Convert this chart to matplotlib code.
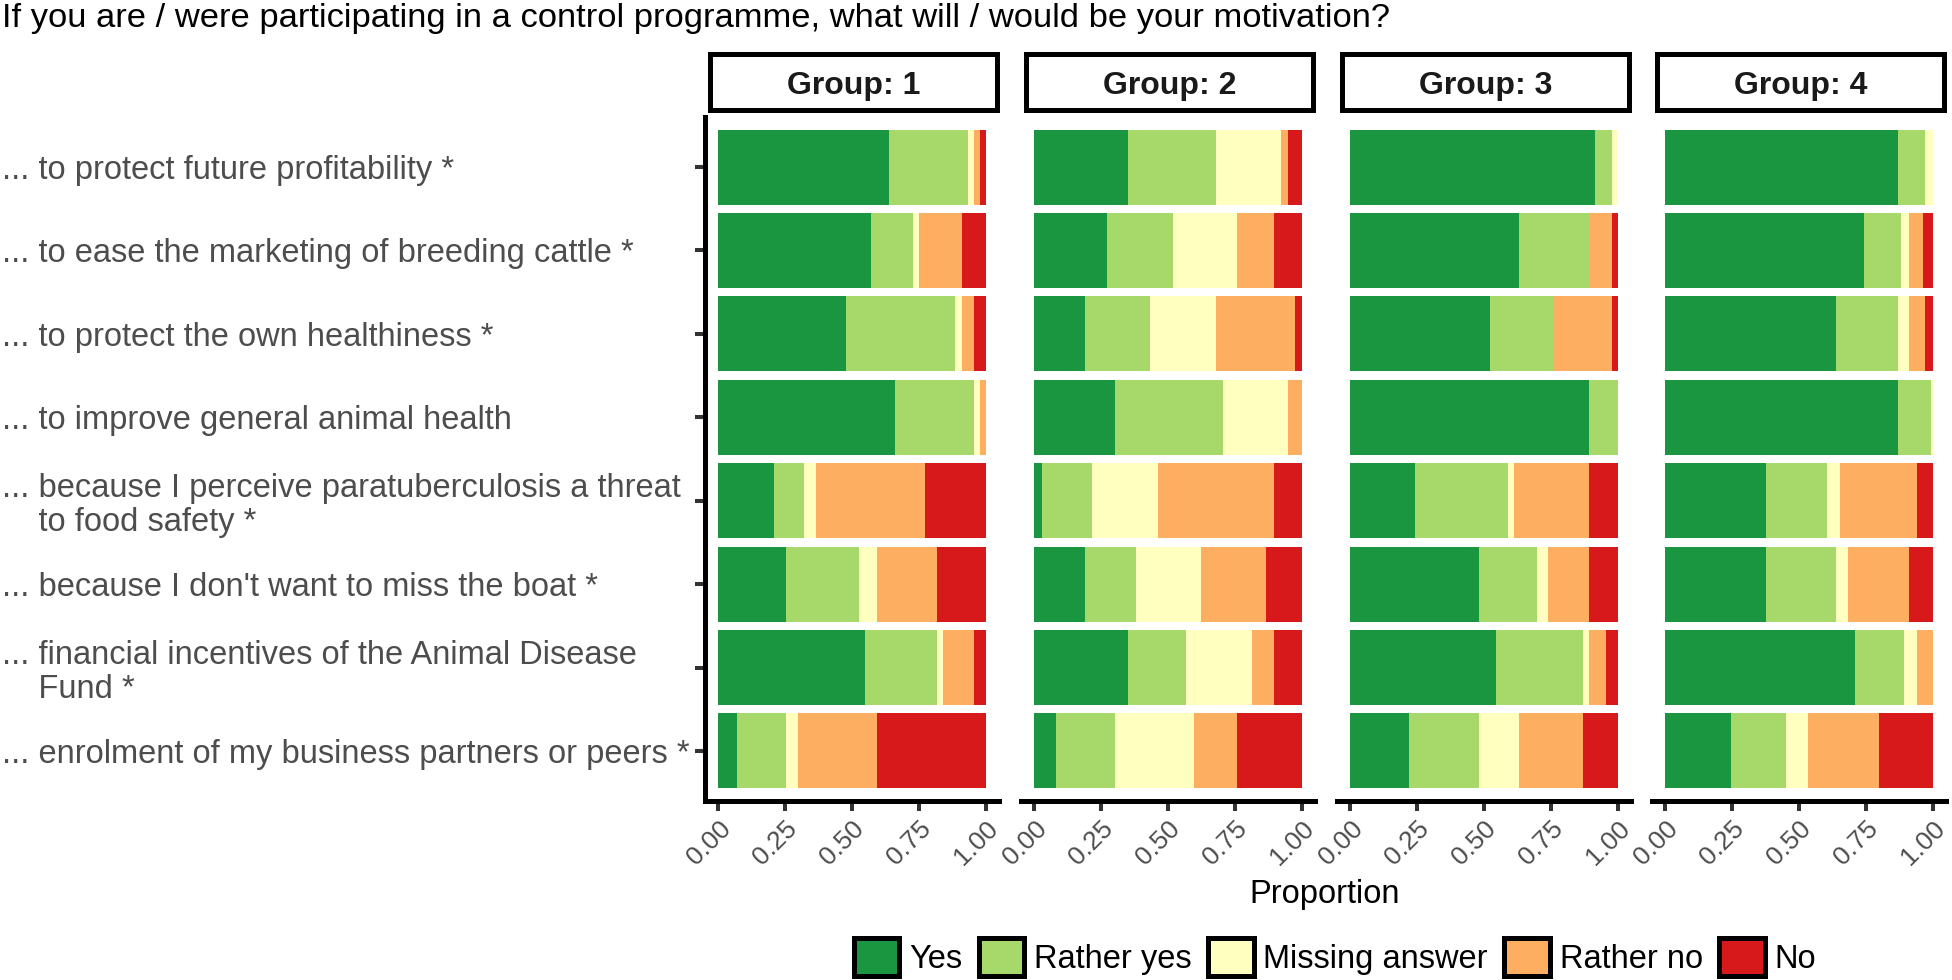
import matplotlib
matplotlib.use('Agg')
import matplotlib.pyplot as plt
from matplotlib.patches import Patch
import numpy as np

plt.rcParams['font.family'] = ['Liberation Sans', 'DejaVu Sans']

# survey items (top to bottom)
questions = [
    "... to protect future profitability *",
    "... to ease the marketing of breeding cattle *",
    "... to protect the own healthiness *",
    "... to improve general animal health",
    "... because I perceive paratuberculosis a threat\n    to food safety *",
    "... because I don't want to miss the boat *",
    "... financial incentives of the Animal Disease\n    Fund *",
    "... enrolment of my business partners or peers *",
]
responses = ["Yes", "Rather yes", "Missing answer", "Rather no", "No"]
colors = ["#1A9641", "#A6D96A", "#FFFFBF", "#FDAE61", "#D7191C"]
groups = ["Group: 1", "Group: 2", "Group: 3", "Group: 4"]

# proportions per question: Yes, Rather yes, Missing, Rather no, No
group1 = [[0.638, 0.295, 0.022, 0.023, 0.022],
          [0.570, 0.157, 0.023, 0.160, 0.090],
          [0.477, 0.407, 0.026, 0.045, 0.045],
          [0.660, 0.295, 0.023, 0.022, 0.000],
          [0.208, 0.112, 0.045, 0.407, 0.228],
          [0.253, 0.273, 0.067, 0.224, 0.183],
          [0.548, 0.269, 0.022, 0.116, 0.045],
          [0.070, 0.183, 0.045, 0.295, 0.407]]
group2 = [[0.352, 0.326, 0.243, 0.027, 0.052],
          [0.273, 0.244, 0.240, 0.138, 0.105],
          [0.191, 0.243, 0.244, 0.296, 0.026],
          [0.300, 0.404, 0.244, 0.052, 0.000],
          [0.030, 0.187, 0.244, 0.434, 0.105],
          [0.191, 0.191, 0.240, 0.243, 0.135],
          [0.352, 0.217, 0.244, 0.082, 0.105],
          [0.082, 0.218, 0.296, 0.161, 0.243]]
group3 = [[0.914, 0.064, 0.022, 0.000, 0.000],
          [0.631, 0.261, 0.000, 0.086, 0.022],
          [0.522, 0.239, 0.000, 0.217, 0.022],
          [0.892, 0.108, 0.000, 0.000, 0.000],
          [0.243, 0.347, 0.022, 0.280, 0.108],
          [0.481, 0.217, 0.041, 0.153, 0.108],
          [0.545, 0.324, 0.023, 0.063, 0.045],
          [0.220, 0.261, 0.150, 0.238, 0.131]]
group4 = [[0.869, 0.101, 0.030, 0.000, 0.000],
          [0.745, 0.135, 0.030, 0.053, 0.037],
          [0.637, 0.232, 0.041, 0.060, 0.030],
          [0.869, 0.124, 0.007, 0.000, 0.000],
          [0.378, 0.225, 0.052, 0.285, 0.060],
          [0.378, 0.259, 0.048, 0.225, 0.090],
          [0.708, 0.183, 0.049, 0.060, 0.000],
          [0.247, 0.206, 0.079, 0.266, 0.202]]
data = [group1, group2, group3, group4]

W, H = 1952, 980
fig = plt.figure(figsize=(W / 100, H / 100), dpi=100)


def px_rect(x0, top, x1, bottom):
    return [x0 / W, 1 - bottom / H, (x1 - x0) / W, (bottom - top) / H]


panel_left = [705, 1021, 1337, 1652]
panel_w = 294
top, bottom = 117, 801
y = np.arange(len(questions))

for gi, g in enumerate(groups):
    pl = panel_left[gi]
    ax = fig.add_axes(px_rect(pl, top, pl + panel_w, bottom))
    vals = np.array(data[gi])
    vals = vals / vals.sum(axis=1, keepdims=True)
    left = np.zeros(len(questions))
    for k in range(len(responses)):
        ax.barh(y, vals[:, k], left=left, height=0.9, color=colors[k], linewidth=0)
        left += vals[:, k]
    ax.set_xlim(-0.05, 1.05)
    ax.set_ylim(len(questions) - 0.4, -0.6)
    ax.spines['top'].set_visible(False)
    ax.spines['right'].set_visible(False)
    ax.spines['bottom'].set_linewidth(3.6)
    ax.set_xticks([0, 0.25, 0.5, 0.75, 1.0])
    ax.set_xticklabels(['0.00', '0.25', '0.50', '0.75', '1.00'],
                       rotation=45, ha='right', va='top', rotation_mode='anchor')
    ax.tick_params(axis='x', length=7.2, width=2.9, color='#333333',
                   labelsize=19, labelcolor='#4D4D4D', pad=4)
    if gi == 0:
        ax.spines['left'].set_linewidth(3.6)
        ax.set_yticks(y)
        ax.set_yticklabels(questions, ha='left', linespacing=1.12)
        ax.tick_params(axis='y', length=7.2, width=2.9, color='#333333',
                       labelsize=23.5, labelcolor='#4D4D4D', pad=506 - 7.2)
    else:
        ax.spines['left'].set_visible(False)
        ax.set_yticks([])

    # facet strip
    sax = fig.add_axes(px_rect(pl + 4.5, 54.5, pl + panel_w - 2, 110.5))
    sax.set_xticks([])
    sax.set_yticks([])
    for sp in sax.spines.values():
        sp.set_linewidth(3.6)
        sp.set_color('black')
    sax.text(0.5, 0.5, g, ha='center', va='center_baseline',
             fontsize=23, fontweight='bold', color='#1A1A1A', transform=sax.transAxes)

fig.text(2 / W, 1 - 27 / H,
         "If you are / were participating in a control programme, what will / would be your motivation?",
         va='baseline', ha='left', fontsize=24.8)
fig.text(1325 / W, 1 - 894 / H, "Proportion", ha='center', va='center', fontsize=23.5)

handles = [Patch(facecolor=c, edgecolor='black', linewidth=3.6) for c in colors]
fig.legend(handles, responses, loc='center', bbox_to_anchor=(1335 / W, 1 - 957 / H),
           ncol=5, frameon=False, fontsize=23.5, handlelength=1.4, handleheight=1.4,
           handletextpad=0.3, columnspacing=0.5, borderaxespad=0, borderpad=0)

fig.savefig('out.png', dpi=100)
